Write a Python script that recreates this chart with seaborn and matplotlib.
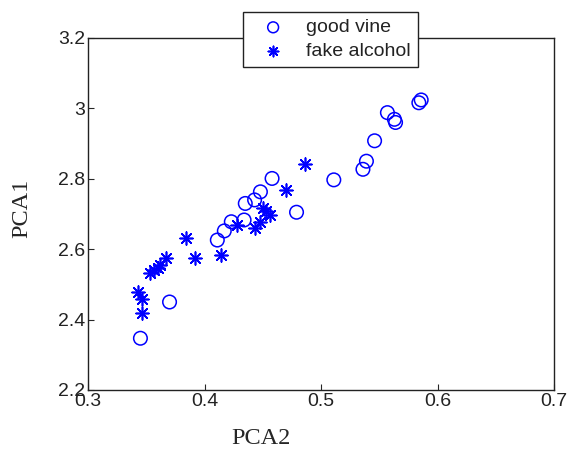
import numpy as np
import pandas as pd
import seaborn as sns
import matplotlib.pyplot as plt

# good vine samples (PCA2, PCA1)
good_pca2 = [0.345, 0.370, 0.411, 0.417, 0.423, 0.434, 0.435, 0.443, 0.448, 0.458,
             0.479, 0.511, 0.536, 0.539, 0.546, 0.557, 0.563, 0.564, 0.584, 0.586]
good_pca1 = [2.347, 2.450, 2.626, 2.652, 2.678, 2.683, 2.730, 2.740, 2.763, 2.801,
             2.705, 2.797, 2.827, 2.850, 2.908, 2.988, 2.969, 2.960, 3.016, 3.024]

# fake alcohol samples (PCA2, PCA1)
fake_pca2 = [0.343, 0.346, 0.346, 0.353, 0.357, 0.360, 0.362, 0.367, 0.384, 0.392,
             0.414, 0.428, 0.443, 0.448, 0.450, 0.453, 0.456, 0.470, 0.486]
fake_pca1 = [2.479, 2.458, 2.420, 2.532, 2.541, 2.546, 2.555, 2.574, 2.631, 2.574,
             2.583, 2.669, 2.659, 2.678, 2.716, 2.709, 2.697, 2.768, 2.841]

x_ticks = [0.3, 0.4, 0.5, 0.6, 0.7]
y_ticks = [2.2, 2.4, 2.6, 2.8, 3.0, 3.2]
x_labels = ['0.3', '0.4', '0.5', '0.6', '0.7']
y_labels = ['2.2', '2.4', '2.6', '2.8', '3', '3.2']

sns.set_style('white')
plt.rcParams['font.family'] = ['Liberation Sans', 'DejaVu Sans']

fig = plt.figure(figsize=(5.69, 4.5), dpi=100)
ax = fig.add_axes([88 / 569, 60 / 450, 466 / 569, 352 / 450])

sns.scatterplot(x=good_pca2, y=good_pca1, ax=ax, marker='o', s=95,
                facecolors='none', edgecolors='#0000ff', linewidth=1.1,
                label='good vine')
sns.scatterplot(x=fake_pca2, y=fake_pca1, ax=ax, marker=(8, 2, 0), s=85,
                color='#0000ff', edgecolors='#0000ff', linewidth=1.2,
                label='fake alcohol')

ax.set_xlim(0.3, 0.7)
ax.set_ylim(2.2, 3.2)
ax.set_xticks(x_ticks, x_labels)
ax.set_yticks(y_ticks, y_labels)
ax.tick_params(direction='in', length=4, width=0.8, labelsize=14,
               labelcolor='#222222', pad=2, top=False, right=False,
               bottom=True, left=True)
for s in ax.spines.values():
    s.set_color('#222222')
    s.set_linewidth(1.0)

ax.set_xlabel('')
ax.set_ylabel('')
fig.text(261 / 569, 1 - 438 / 450, 'PCA2', fontsize=17.5,
         family='Liberation Serif', ha='center', va='center')
fig.text(22 / 569, 1 - 208 / 450, 'PCA1', fontsize=17.5,
         family='Liberation Serif', ha='center', va='center', rotation=90)

leg = ax.legend(loc='upper left', bbox_to_anchor=(243 / 569, 1 - 12 / 450),
                bbox_transform=fig.transFigure, fancybox=False,
                edgecolor='#222222', fontsize=14, framealpha=1,
                handletextpad=0.5, labelspacing=0.3, borderpad=0.35,
                handlelength=2.4, borderaxespad=0, markerscale=0.8)
leg.get_frame().set_linewidth(1.0)
for t in leg.get_texts():
    t.set_color('#222222')

fig.savefig('out.png', dpi=100)
